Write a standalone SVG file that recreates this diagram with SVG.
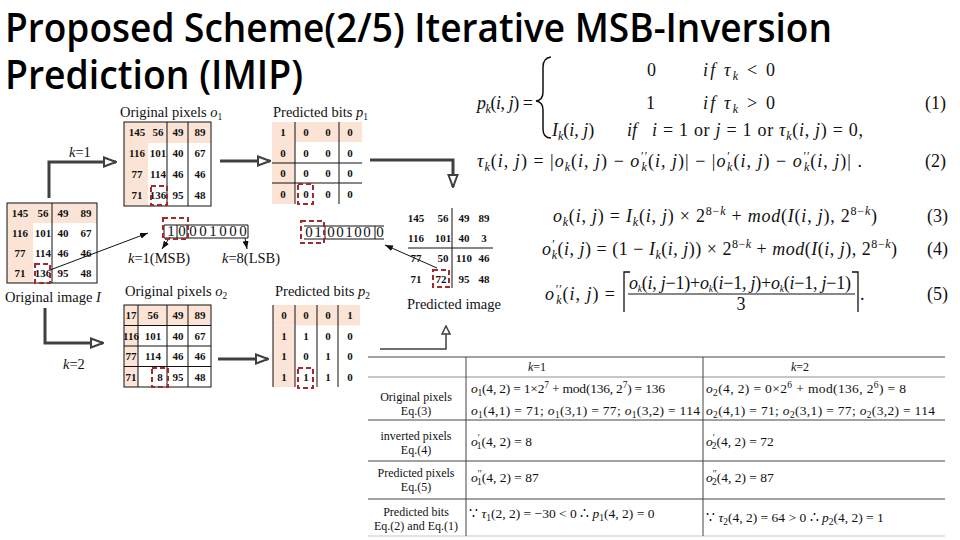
<svg xmlns="http://www.w3.org/2000/svg" width="960" height="540" viewBox="0 0 960 540">
<defs>
<style>
.title{font-family:"Open Sans","DejaVu Sans",sans-serif;font-size:40px;font-weight:600;fill:#000}
.lb{font-family:"Liberation Serif",serif;font-size:14.5px;fill:#111}
.n{font-family:"Liberation Serif",serif;font-size:11px;font-weight:bold;fill:#111;text-anchor:middle}
.bits{font-family:"Liberation Serif",serif;font-size:15px;fill:#111;text-anchor:middle}
.m{font-family:"Liberation Serif",serif;font-size:18px;fill:#111}
.t{font-family:"Liberation Serif",serif;font-size:13.5px;fill:#111}
.tl{font-family:"Liberation Serif",serif;font-size:12px;fill:#111;text-anchor:middle}
.i{font-style:italic}
.sb{font-size:12px;baseline-shift:-4px}
.sp{font-size:12px;baseline-shift:7px}
.sbs{font-size:9.5px;baseline-shift:-3px}
.sps{font-size:9.5px;baseline-shift:5px}
.sh{fill:#fbe4d5}
.g{fill:none;stroke:#111;stroke-width:1}
.red{fill:none;stroke:#a32a2a;stroke-width:2;stroke-dasharray:5 3}
.conn{fill:none;stroke:#404040;stroke-width:3}
.thin{fill:none;stroke:#111;stroke-width:1}
.tb{stroke:#444;stroke-width:1}
</style>
<marker id="ah" markerUnits="userSpaceOnUse" markerWidth="14" markerHeight="12" refX="13" refY="6" orient="auto"><path d="M1,1.5 L13,6 L1,10.5 z" fill="#fff" stroke="#404040" stroke-width="2"/></marker>
<marker id="ah2" markerUnits="userSpaceOnUse" markerWidth="10" markerHeight="12" refX="9" refY="5" orient="auto"><path d="M1,1 L9,5 L1,9 z" fill="#fff" stroke="#404040" stroke-width="1.5"/></marker>
<marker id="sm" markerUnits="userSpaceOnUse" markerWidth="8" markerHeight="6" refX="8" refY="3" orient="auto"><path d="M0,0 L8,3 L0,6 z" fill="#111"/></marker>
</defs>
<rect width="960" height="540" fill="#fff"/>

<g id="title">
<text x="5" y="42" class="title" textLength="827" lengthAdjust="spacingAndGlyphs">Proposed Scheme(2/5) Iterative MSB-Inversion</text>
<text x="5" y="89" class="title" textLength="298" lengthAdjust="spacingAndGlyphs">Prediction (IMIP)</text>
</g>

<g id="connectors">
<polyline class="conn" points="49,198 49,162 116,162" marker-end="url(#ah)"/>
<line class="conn" x1="220" y1="161" x2="270" y2="161" marker-end="url(#ah)"/>
<polyline class="conn" points="370,160 453,160 453,187" marker-end="url(#ah)"/>
<polyline class="conn" points="45,308 45,343 103,343" marker-end="url(#ah)"/>
<line class="conn" x1="218" y1="359" x2="268" y2="359" marker-end="url(#ah)"/>
<polyline fill="none" stroke="#404040" stroke-width="1.5" points="380,349 446,349 446,326" marker-end="url(#ah2)"/>
<line class="thin" x1="50" y1="270" x2="148" y2="233" marker-end="url(#sm)"/>
<line class="thin" x1="170" y1="237" x2="162" y2="249" marker-end="url(#sm)"/>
<line class="thin" x1="245" y1="238" x2="247" y2="249" marker-end="url(#sm)"/>
<line class="thin" x1="437" y1="268" x2="385" y2="245" marker-end="url(#sm)"/>
</g>

<g id="label-k1"><text x="69" y="157" class="lb"><tspan class="i">k</tspan>=1</text></g>
<g id="label-k2"><text x="63" y="369" class="lb"><tspan class="i">k</tspan>=2</text></g>

<g id="original-image">
<rect class="sh" x="7" y="203" width="90" height="20"/>
<rect class="sh" x="7" y="223" width="26" height="60"/>
<rect class="g" x="7" y="203" width="90" height="80"/>
<line class="g" x1="52" y1="203" x2="52" y2="283"/>
<text class="n" x="20" y="217">145</text><text class="n" x="43" y="217">56</text><text class="n" x="63" y="217">49</text><text class="n" x="86" y="217">89</text>
<text class="n" x="20" y="237">116</text><text class="n" x="43" y="237">101</text><text class="n" x="63" y="237">40</text><text class="n" x="86" y="237">67</text>
<text class="n" x="20" y="257">77</text><text class="n" x="43" y="257">114</text><text class="n" x="63" y="257">46</text><text class="n" x="86" y="257">46</text>
<text class="n" x="20" y="277">71</text><text class="n" x="43" y="277">136</text><text class="n" x="63" y="277">95</text><text class="n" x="86" y="277">48</text>
<rect class="red" x="35" y="264" width="15" height="19"/>
<text x="5" y="302" class="lb">Original image <tspan class="i">I</tspan></text>
</g>

<g id="original-pixels-o1">
<text x="120" y="117" class="lb">Original pixels <tspan class="i">o</tspan><tspan class="sbs">1</tspan></text>
<rect class="sh" x="124" y="122" width="87" height="21"/>
<rect class="sh" x="124" y="143" width="24" height="63"/>
<rect class="g" x="124" y="122" width="87" height="84"/>
<line class="g" x1="167" y1="122" x2="167" y2="206"/>
<line class="g" x1="188" y1="122" x2="188" y2="206"/>
<text class="n" x="137" y="136">145</text><text class="n" x="158" y="136">56</text><text class="n" x="178" y="136">49</text><text class="n" x="200" y="136">89</text>
<text class="n" x="137" y="157">116</text><text class="n" x="158" y="157">101</text><text class="n" x="178" y="157">40</text><text class="n" x="200" y="157">67</text>
<text class="n" x="137" y="178">77</text><text class="n" x="158" y="178">114</text><text class="n" x="178" y="178">46</text><text class="n" x="200" y="178">46</text>
<text class="n" x="137" y="199">71</text><text class="n" x="158" y="199">136</text><text class="n" x="178" y="199">95</text><text class="n" x="200" y="199">48</text>
<rect class="red" x="151" y="186" width="16" height="19"/>
</g>

<g id="predicted-bits-p1">
<text x="273" y="117" class="lb">Predicted bits <tspan class="i">p</tspan><tspan class="sbs">1</tspan></text>
<rect class="sh" x="272" y="122" width="90" height="20"/>
<rect class="sh" x="272" y="142" width="23" height="62"/>
<line class="g" x1="295" y1="122" x2="295" y2="204"/>
<line class="g" x1="339" y1="122" x2="339" y2="204"/>
<line class="g" x1="272" y1="163" x2="362" y2="163"/>
<line class="g" x1="272" y1="183" x2="362" y2="183"/>
<text class="n" x="283" y="136">1</text><text class="n" x="306" y="136">0</text><text class="n" x="328" y="136">0</text><text class="n" x="350" y="136">0</text>
<text class="n" x="283" y="157">0</text><text class="n" x="306" y="157">0</text><text class="n" x="328" y="157">0</text><text class="n" x="350" y="157">0</text>
<text class="n" x="283" y="177">0</text><text class="n" x="306" y="177">0</text><text class="n" x="328" y="177">0</text><text class="n" x="350" y="177">0</text>
<text class="n" x="283" y="198">0</text><text class="n" x="306" y="198">0</text><text class="n" x="328" y="198">0</text><text class="n" x="350" y="198">0</text>
<rect class="red" x="298" y="184" width="15" height="20"/>
</g>

<g id="bits-136">
<line class="g" x1="164" y1="225" x2="248" y2="225"/>
<line class="g" x1="164" y1="238" x2="248" y2="238"/>
<line class="g" x1="164" y1="225" x2="164" y2="238"/>
<line class="g" x1="177" y1="225" x2="177" y2="238"/>
<line class="g" x1="187" y1="225" x2="187" y2="238"/>
<line class="g" x1="248" y1="225" x2="248" y2="238"/>
<text class="bits" x="171" y="236">1</text><text class="bits" x="182" y="236">0</text><text class="bits" x="193" y="236">0</text><text class="bits" x="203" y="236">0</text><text class="bits" x="213" y="236">1</text><text class="bits" x="223" y="236">0</text><text class="bits" x="233" y="236">0</text><text class="bits" x="243" y="236">0</text>
<rect class="red" x="163" y="218" width="25" height="21"/>
<text x="128" y="263" class="lb" font-size="15"><tspan class="i">k</tspan>=1(MSB)</text>
<text x="222" y="263" class="lb" font-size="15"><tspan class="i">k</tspan>=8(LSB)</text>
</g>

<g id="bits-72">
<line class="g" x1="304" y1="226" x2="384" y2="226"/>
<line class="g" x1="304" y1="239" x2="384" y2="239"/>
<line class="g" x1="325" y1="226" x2="325" y2="239"/>
<line class="g" x1="375" y1="226" x2="375" y2="239"/>
<text class="bits" x="309" y="237">0</text><text class="bits" x="318" y="237">1</text><text class="bits" x="331" y="237">0</text><text class="bits" x="340" y="237">0</text><text class="bits" x="349" y="237">1</text><text class="bits" x="358" y="237">0</text><text class="bits" x="367" y="237">0</text><text class="bits" x="380" y="237">0</text>
<rect class="red" x="301" y="221" width="23" height="22"/>
</g>

<g id="predicted-image">
<line class="g" x1="452" y1="208" x2="452" y2="288"/>
<line class="g" x1="408" y1="248" x2="493" y2="248"/>
<text class="n" x="416" y="222">145</text><text class="n" x="443" y="222">56</text><text class="n" x="464" y="222">49</text><text class="n" x="484" y="222">89</text>
<text class="n" x="416" y="242">116</text><text class="n" x="443" y="242">101</text><text class="n" x="464" y="242">40</text><text class="n" x="484" y="242">3</text>
<text class="n" x="416" y="262">77</text><text class="n" x="443" y="262">50</text><text class="n" x="464" y="262">110</text><text class="n" x="484" y="262">46</text>
<text class="n" x="416" y="283">71</text><text class="n" x="441" y="283">72</text><text class="n" x="464" y="283">95</text><text class="n" x="484" y="283">48</text>
<rect class="red" x="433" y="270" width="16" height="17"/>
<text x="407" y="309" class="lb">Predicted image</text>
</g>

<g id="original-pixels-o2">
<text x="125" y="296" class="lb">Original pixels <tspan class="i">o</tspan><tspan class="sbs">2</tspan></text>
<rect class="sh" x="124" y="305" width="87" height="20.5"/>
<rect class="sh" x="124" y="325.5" width="14" height="61.5"/>
<rect class="g" x="124" y="305" width="87" height="82"/>
<line class="g" x1="138" y1="305" x2="138" y2="387"/>
<line class="g" x1="167" y1="305" x2="167" y2="387"/>
<line class="g" x1="188" y1="305" x2="188" y2="387"/>
<line class="g" x1="124" y1="325.5" x2="211" y2="325.5"/>
<line class="g" x1="124" y1="346" x2="211" y2="346"/>
<line class="g" x1="124" y1="366.5" x2="211" y2="366.5"/>
<text class="n" x="131" y="319">17</text><text class="n" x="153" y="319">56</text><text class="n" x="178" y="319">49</text><text class="n" x="200" y="319">89</text>
<text class="n" x="131" y="340">116</text><text class="n" x="153" y="340">101</text><text class="n" x="178" y="340">40</text><text class="n" x="200" y="340">67</text>
<text class="n" x="131" y="360">77</text><text class="n" x="153" y="360">114</text><text class="n" x="178" y="360">46</text><text class="n" x="200" y="360">46</text>
<text class="n" x="131" y="381">71</text><text class="n" x="160" y="381">8</text><text class="n" x="178" y="381">95</text><text class="n" x="200" y="381">48</text>
<rect class="red" x="152" y="368" width="16" height="19"/>
</g>

<g id="predicted-bits-p2">
<text x="275" y="296" class="lb">Predicted bits <tspan class="i">p</tspan><tspan class="sbs">2</tspan></text>
<rect class="sh" x="273" y="305" width="87" height="20.5"/>
<rect class="sh" x="273" y="325.5" width="22" height="61.5"/>
<line class="g" x1="273" y1="305" x2="273" y2="387"/>
<line class="g" x1="295" y1="305" x2="295" y2="387"/>
<line class="g" x1="317" y1="305" x2="317" y2="387"/>
<line class="g" x1="338" y1="305" x2="338" y2="387"/>
<text class="n" x="284" y="319">0</text><text class="n" x="306" y="319">0</text><text class="n" x="328" y="319">0</text><text class="n" x="350" y="319">1</text>
<text class="n" x="284" y="340">1</text><text class="n" x="306" y="340">1</text><text class="n" x="328" y="340">0</text><text class="n" x="350" y="340">0</text>
<text class="n" x="284" y="360">1</text><text class="n" x="306" y="360">0</text><text class="n" x="328" y="360">1</text><text class="n" x="350" y="360">0</text>
<text class="n" x="284" y="381">1</text><text class="n" x="306" y="381">1</text><text class="n" x="328" y="381">1</text><text class="n" x="350" y="381">0</text>
<rect class="red" x="298" y="368" width="15" height="20"/>
</g>

<g id="equations">
<text x="477" y="109" class="m" textLength="56" lengthAdjust="spacing"><tspan class="i">p</tspan><tspan class="sb i">k</tspan>(<tspan class="i">i</tspan>, <tspan class="i">j</tspan>) =</text>
<path d="M551,57 Q543,58 543,67 L543,92 Q543,100 536,101 Q543,102 543,110 L543,129 Q543,138 551,138" fill="none" stroke="#111" stroke-width="1.5"/>
<text x="647" y="76" class="m">0</text>
<text x="703" y="76" class="m" textLength="72" lengthAdjust="spacing"><tspan class="i">if</tspan>   <tspan class="i">τ</tspan><tspan class="sb i">k</tspan> &lt; 0</text>
<text x="646" y="109" class="m">1</text>
<text x="703" y="109" class="m" textLength="72" lengthAdjust="spacing"><tspan class="i">if</tspan>  <tspan class="i">τ</tspan><tspan class="sb i">k</tspan> &gt; 0</text>
<text x="552" y="136" class="m"><tspan class="i">I</tspan><tspan class="sb i">k</tspan>(<tspan class="i">i</tspan>, <tspan class="i">j</tspan>)</text>
<text x="627" y="136" class="m"><tspan class="i">if</tspan></text>
<text x="652" y="136" class="m" textLength="211" lengthAdjust="spacing"><tspan class="i">i</tspan> = 1 or <tspan class="i">j</tspan> = 1 or <tspan class="i">τ</tspan><tspan class="sb i">k</tspan>(<tspan class="i">i</tspan>, <tspan class="i">j</tspan>) = 0,</text>
<text x="925" y="109" class="m">(1)</text>
<text x="477" y="167" class="m" textLength="385" lengthAdjust="spacing"><tspan class="i">τ</tspan><tspan class="sb i">k</tspan>(<tspan class="i">i</tspan>, <tspan class="i">j</tspan>) =  |<tspan class="i">o</tspan><tspan class="sb i">k</tspan>(<tspan class="i">i</tspan>, <tspan class="i">j</tspan>) − <tspan class="i">o</tspan><tspan class="sp i">′′</tspan><tspan class="sb i" dx="-6">k</tspan>(<tspan class="i">i</tspan>, <tspan class="i">j</tspan>)| − |<tspan class="i">o</tspan><tspan class="sp i">′</tspan><tspan class="sb i" dx="-3">k</tspan>(<tspan class="i">i</tspan>, <tspan class="i">j</tspan>) − <tspan class="i">o</tspan><tspan class="sp i">′′</tspan><tspan class="sb i" dx="-6">k</tspan>(<tspan class="i">i</tspan>, <tspan class="i">j</tspan>)| .</text>
<text x="925" y="167" class="m">(2)</text>
<text x="553" y="222" class="m" textLength="324" lengthAdjust="spacing"><tspan class="i">o</tspan><tspan class="sb i">k</tspan>(<tspan class="i">i</tspan>, <tspan class="i">j</tspan>) =  <tspan class="i">I</tspan><tspan class="sb i">k</tspan>(<tspan class="i">i</tspan>, <tspan class="i">j</tspan>)  × 2<tspan class="sp">8−<tspan class="i">k</tspan></tspan> + <tspan class="i">mod</tspan>(<tspan class="i">I</tspan>(<tspan class="i">i</tspan>, <tspan class="i">j</tspan>), 2<tspan class="sp">8−<tspan class="i">k</tspan></tspan>)</text>
<text x="927" y="222" class="m">(3)</text>
<text x="542" y="255" class="m" textLength="355" lengthAdjust="spacing"><tspan class="i">o</tspan><tspan class="sp i">′</tspan><tspan class="sb i" dx="-3">k</tspan>(<tspan class="i">i</tspan>, <tspan class="i">j</tspan>) =  (1 − <tspan class="i">I</tspan><tspan class="sb i">k</tspan>(<tspan class="i">i</tspan>, <tspan class="i">j</tspan>))  × 2<tspan class="sp">8−<tspan class="i">k</tspan></tspan> + <tspan class="i">mod</tspan>(<tspan class="i">I</tspan>(<tspan class="i">i</tspan>, <tspan class="i">j</tspan>), 2<tspan class="sp">8−<tspan class="i">k</tspan></tspan>)</text>
<text x="927" y="255" class="m">(4)</text>
<text x="545" y="300" class="m" textLength="70" lengthAdjust="spacing"><tspan class="i">o</tspan><tspan class="sp i">′′</tspan><tspan class="sb i" dx="-6">k</tspan>(<tspan class="i">i</tspan>, <tspan class="i">j</tspan>) =</text>
<path d="M630,272 L624,272 L624,312 M852,272 L858,272 L858,312" fill="none" stroke="#111" stroke-width="1.3"/>
<text x="629" y="289" class="m" font-size="12.5" textLength="222" lengthAdjust="spacing"><tspan class="i">o</tspan><tspan class="sbs i">k</tspan>(<tspan class="i">i</tspan>, <tspan class="i">j</tspan>−1)+<tspan class="i">o</tspan><tspan class="sbs i">k</tspan>(<tspan class="i">i</tspan>−1, <tspan class="i">j</tspan>)+<tspan class="i">o</tspan><tspan class="sbs i">k</tspan>(<tspan class="i">i</tspan>−1, <tspan class="i">j</tspan>−1)</text>
<line x1="628" y1="294" x2="855" y2="294" stroke="#111" stroke-width="1"/>
<text x="741" y="310" class="m" font-size="12" text-anchor="middle">3</text>
<text x="860" y="300" class="m">.</text>
<text x="927" y="300" class="m">(5)</text>
</g>

<g id="example-table">
<line class="tb" x1="368" y1="357" x2="945" y2="357"/>
<line class="tb" x1="368" y1="377" x2="945" y2="377" stroke-opacity="0.6"/>
<line class="tb" x1="368" y1="420" x2="945" y2="420"/>
<line class="tb" x1="368" y1="461" x2="945" y2="461"/>
<line class="tb" x1="368" y1="499" x2="945" y2="499"/>
<line class="tb" x1="368" y1="536" x2="945" y2="536" stroke-opacity="0.3"/>
<line class="tb" x1="466" y1="357" x2="466" y2="536"/>
<line class="tb" x1="703" y1="357" x2="703" y2="536"/>
<text x="537" y="371" class="tl"><tspan class="i">k</tspan>=1</text>
<text x="800" y="371" class="tl"><tspan class="i">k</tspan>=2</text>
<text x="416" y="401" class="tl">Original pixels</text>
<text x="416" y="415" class="tl">Eq.(3)</text>
<text x="416" y="440" class="tl">inverted pixels</text>
<text x="416" y="454" class="tl">Eq.(4)</text>
<text x="416" y="477" class="tl">Predicted pixels</text>
<text x="416" y="491" class="tl">Eq.(5)</text>
<text x="416" y="516" class="tl">Predicted bits</text>
<text x="416" y="530" class="tl">Eq.(2) and Eq.(1)</text>
<text x="471" y="393" class="t" textLength="194" lengthAdjust="spacing"><tspan class="i">o</tspan><tspan class="sbs">1</tspan>(4, 2) = 1×2<tspan class="sps">7</tspan> + mod(136, 2<tspan class="sps">7</tspan>) = 136</text>
<text x="471" y="415" class="t" textLength="229" lengthAdjust="spacing"><tspan class="i">o</tspan><tspan class="sbs">1</tspan>(4,1) = 71;  <tspan class="i">o</tspan><tspan class="sbs">1</tspan>(3,1) = 77;  <tspan class="i">o</tspan><tspan class="sbs">1</tspan>(3,2) = 114</text>
<text x="706" y="393" class="t" textLength="200" lengthAdjust="spacing"><tspan class="i">o</tspan><tspan class="sbs">2</tspan>(4, 2) = 0×2<tspan class="sps">6</tspan> + mod(136, 2<tspan class="sps">6</tspan>) = 8</text>
<text x="706" y="415" class="t" textLength="229" lengthAdjust="spacing"><tspan class="i">o</tspan><tspan class="sbs">2</tspan>(4,1) = 71;  <tspan class="i">o</tspan><tspan class="sbs">2</tspan>(3,1) = 77;  <tspan class="i">o</tspan><tspan class="sbs">2</tspan>(3,2) = 114</text>
<text x="471" y="446" class="t"><tspan class="i">o</tspan><tspan class="sps">′</tspan><tspan class="sbs" dx="-3">1</tspan>(4, 2) = 8</text>
<text x="706" y="446" class="t"><tspan class="i">o</tspan><tspan class="sps">′</tspan><tspan class="sbs" dx="-3">2</tspan>(4, 2) = 72</text>
<text x="471" y="482" class="t"><tspan class="i">o</tspan><tspan class="sps">′′</tspan><tspan class="sbs" dx="-5">1</tspan>(4, 2) = 87</text>
<text x="706" y="482" class="t"><tspan class="i">o</tspan><tspan class="sps">′′</tspan><tspan class="sbs" dx="-5">2</tspan>(4, 2) = 87</text>
<text x="469" y="518" class="t">∵ <tspan class="i">τ</tspan><tspan class="sbs">1</tspan>(2, 2) = −30 &lt; 0     ∴ <tspan class="i">p</tspan><tspan class="sbs">1</tspan>(4, 2) = 0</text>
<text x="706" y="522" class="t">∵ <tspan class="i">τ</tspan><tspan class="sbs">2</tspan>(4, 2) = 64 &gt; 0     ∴ <tspan class="i">p</tspan><tspan class="sbs">2</tspan>(4, 2) = 1</text>
</g>
</svg>
